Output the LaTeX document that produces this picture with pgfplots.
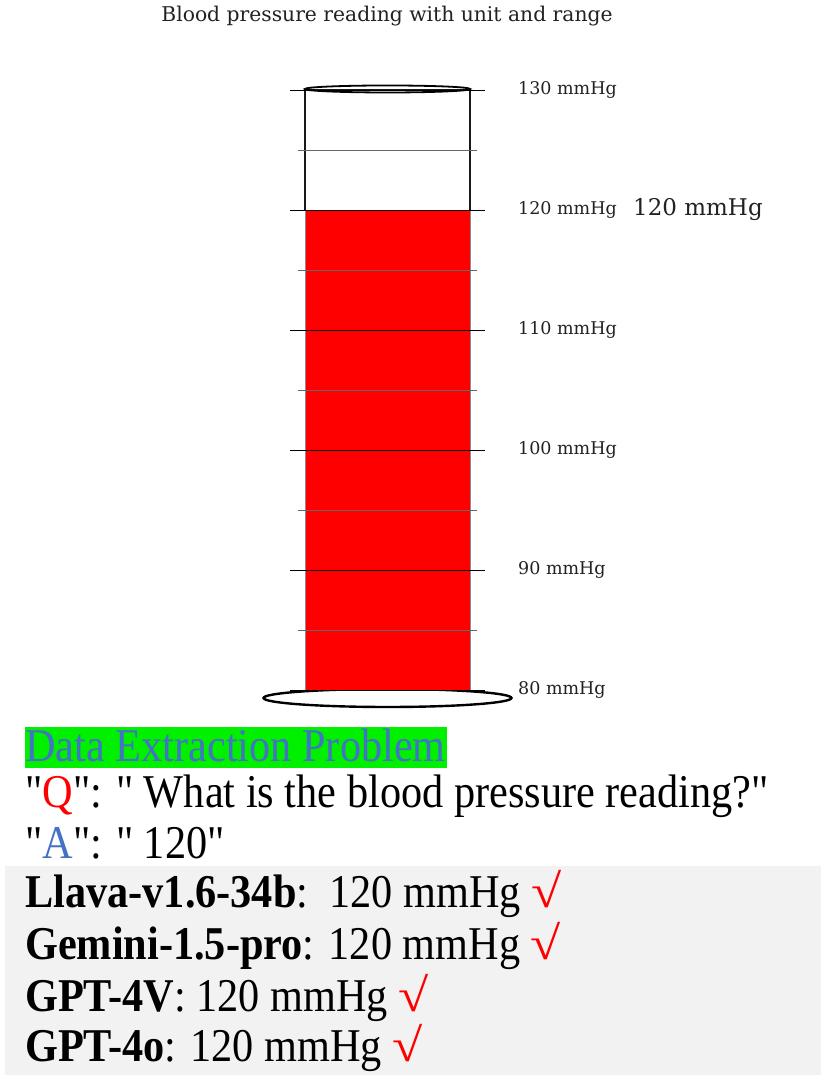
\documentclass[border=0pt]{standalone}
\usepackage{fontspec}
\newfontfamily\qfont{Liberation Serif}[FakeStretch=0.90]
\newfontfamily\chartfont{DejaVu Serif}
\usepackage{xcolor}
\usepackage{graphicx}
\usepackage{pgfplots}
\pgfplotsset{compat=1.18}
\definecolor{qblue}{HTML}{4472C4}
\definecolor{boxgreen}{HTML}{00F000}
\definecolor{panelgray}{HTML}{F2F2F2}
\definecolor{charttext}{HTML}{222222}
\newcommand{\ok}{\textcolor{red}{\scalebox{1.3}[1]{√}}}

\begin{document}
\begin{tikzpicture}[x=1pt,y=1pt]
\useasboundingbox[fill=white] (0,0) rectangle (821,1075);
\node[font=\chartfont\fontsize{20.3}{24}\selectfont, text=charttext, inner sep=0] at (387,1059) {Blood pressure reading with unit and range};
% base of the gauge
\draw[line width=2.4pt, fill=white] (387.5,377) ellipse (124 and 9);
\begin{axis}[
    at={(290pt,385pt)}, anchor=south west,
    scale only axis, width=195pt, height=600pt,
    xmin=0, xmax=195, ymin=80, ymax=130,
    clip=false,
    axis line style={draw=none},
    xtick=\empty,
    ytick={80,90,...,130},
    ymajorgrids,
    major grid style={black, line width=0.9pt},
    major tick length=0pt,
    yticklabel pos=right,
    yticklabel={\pgfmathprintnumber[assume math mode=true]{\tick}\ mmHg},
    yticklabel style={font=\chartfont\fontsize{17.5}{20}\selectfont, text=charttext, anchor=west, inner sep=0pt, xshift=33pt},
    axis on top
]
% filled level
\addplot[fill=red, draw=black!45, line width=0.6pt] coordinates {(15,80) (15,120) (180,120) (180,80)} -- cycle;
% empty part of the tube
\addplot[black!90, line width=2.6pt] coordinates {(15,120) (15,130) (180,130) (180,120)};
\pgfplotsinvokeforeach{85,95,105,115,125}{
  \draw[black!60, line width=0.6pt] (axis cs:8,#1) -- (axis cs:187,#1);
}
\node[anchor=west, inner sep=0pt, xshift=148pt, font=\chartfont\fontsize{23}{26}\selectfont, text=charttext] at (axis cs:195,120) {120 mmHg};
\end{axis}
\draw[line width=1.8pt] (387.5,986) ellipse (82.5 and 3.5);
% question panel
\fill[boxgreen] (25,348) rectangle (447,307);
\fill[panelgray] (5,209) rectangle (821,0);
\begin{scope}[every node/.style={anchor=base west, inner sep=0pt, font=\qfont\fontsize{47}{52}\selectfont}]
\node[text=qblue] at (25,313) {Data Extraction Problem};
\node at (25,267) {"\textcolor{red}{Q}": " What is the blood pressure reading?"};
\node at (25,216) {"\textcolor{qblue}{A}": " 120"};
\node at (25,167) {\textbf{Llava-v1.6-34b}:\ \ 120 mmHg \ok};
\node at (25,115) {\textbf{Gemini-1.5-pro}: 120 mmHg \ok};
\node at (25,63) {\textbf{GPT-4V}: 120 mmHg \ok};
\node at (25,13) {\textbf{GPT-4o}: 120 mmHg \ok};
\end{scope}
\end{tikzpicture}
\end{document}
